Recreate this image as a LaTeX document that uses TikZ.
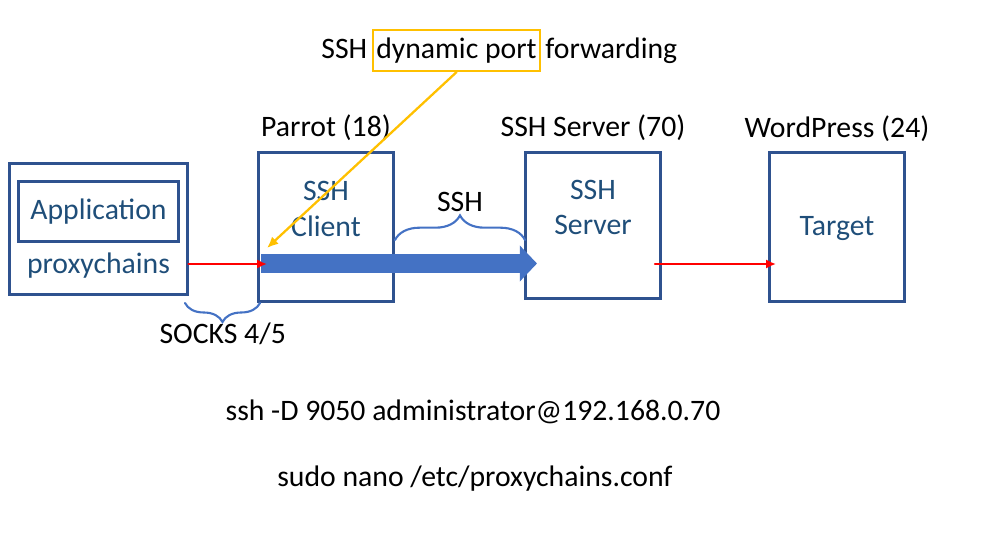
\documentclass[tikz,border=0pt]{standalone}
\usepackage{fontspec}
\setmainfont{Carlito}
\usepackage{xcolor}
\usetikzlibrary{arrows.meta,decorations.pathreplacing,positioning}

\definecolor{boxblue}{RGB}{47,82,143}
\definecolor{textblue}{RGB}{31,78,121}
\definecolor{tunblue}{RGB}{68,114,196}
\definecolor{markyellow}{RGB}{255,192,0}

\begin{document}
\begin{tikzpicture}[x=0.01cm,y=-0.01cm,cap=round,
    font=\fontsize{8.45}{10}\selectfont,
    host/.style={draw=boxblue,line width=0.85pt,minimum width=1.34cm,minimum height=1.48cm,inner sep=0pt},
    hosttext/.style={text=textblue,align=center},
    redline/.style={red,line width=0.7pt,-{Latex[length=2.8pt,width=2.6pt]}},
    yellowline/.style={markyellow,line width=0.65pt,-{Latex[length=3.2pt,width=2.8pt]}},
    tunnel/.style={tunblue,line width=5.2pt,line cap=butt,-{Triangle[length=4.9pt,width=10pt]}},
    curly/.style={tunblue,line width=0.6pt,decorate,decoration={brace,amplitude=#1}}]
    \useasboundingbox (0,0) rectangle (1000,558);

    %/ Title
    \node[draw=markyellow,line width=0.65pt,minimum width=1.67cm,minimum height=0.41cm,inner sep=0pt] (dyn) at (456.5,50.5) {dynamic port};
    \node[anchor=base east,inner sep=0pt] (ttlssh) at ([xshift=-1.1pt]dyn.base west) {SSH};
    \node[anchor=base west,inner sep=0pt] (ttlfwd) at ([xshift=1pt]dyn.base east) {forwarding};

    %/ Hosts
    \node[host,minimum width=1.77cm,minimum height=1.30cm] (proxy) at (98.5,229) {};
    \node[host,minimum width=1.59cm,minimum height=0.59cm,text=textblue] (app) at (98.5,211.5) {Application};
    \node[hosttext] (proxytxt) at (98.5,265.4) {proxychains};
    \node[host] (parrot) at (326,227) {};
    \node[host,minimum height=1.45cm] (server) at (593,225.5) {};
    \node[host] (target) at (837,227) {};
    \node[hosttext] (clienttxt) at (326,209) {SSH\\Client};
    \node[hosttext] (servertxt) at (593,207.5) {SSH\\Server};
    \node[hosttext] (targettxt) at (837,229) {Target};

    %/ Host names
    \node[anchor=base] (parrotname) at ([yshift=4.3pt]parrot.north) {Parrot (18)};
    \node[anchor=base] (servername) at ([yshift=4.3pt]server.north) {SSH Server (70)};
    \node[anchor=base] (targetname) at ([yshift=4pt]target.north) {WordPress (24)};

    %/ Tunnel
    \coordinate (tunS) at (261,263.5);
    \coordinate (tunE) at (537,263.5);
    \draw[tunnel] (tunS) -- (tunE);

    %/ Links
    \coordinate (socksin) at (267,264);
    \draw[redline] (proxy.east |- socksin) -- (socksin);
    \coordinate (fwdout) at (655,264);
    \coordinate (fwdin) at (776,264);
    \draw[redline] (fwdout) -- (fwdin);
    \coordinate (clientin) at (267,248);
    \draw[yellowline] (dyn.south) -- (clientin);

    %/ Braces
    \draw[curly=7pt] (395,240) -- (525,240);
    \node[anchor=base] (sshlbl) at (460,212) {SSH};
    \draw[curly=5.4pt] (260,303) -- (185,303);
    \node[anchor=base] (sockslbl) at (222.7,343.3) {SOCKS 4/5};

    %/ Commands
    \node[anchor=base] (sshcmd) at (473,420) {ssh -D 9050 administrator@192.168.0.70};
    \node[anchor=base] (confcmd) at (475,486.4) {sudo nano /etc/proxychains.conf};
\end{tikzpicture}
\end{document}
